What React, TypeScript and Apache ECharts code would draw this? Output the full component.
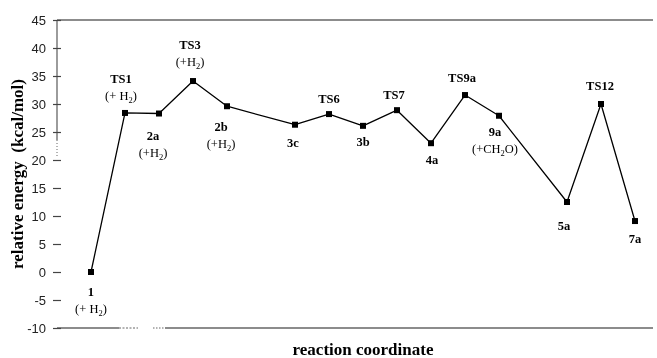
import React, { useEffect, useRef } from "react";
import * as echarts from "echarts";

// ---- data ----
const species = ["1", "TS1", "2a", "TS3", "2b", "3c", "TS6", "3b", "TS7", "4a", "TS9a", "9a", "5a", "TS12", "7a"];
const notes = ["(+ H₂)", "(+ H₂)", "(+H₂)", "(+H₂)", "(+H₂)", "", "", "", "", "", "", "(+CH₂O)", "", "", ""];
const positions = [1, 2, 3, 4, 5, 7, 8, 9, 10, 11, 12, 13, 15, 16, 17];
const energies = [0, 28.4, 28.3, 34.1, 29.6, 26.3, 28.2, 26.1, 28.9, 23.0, 31.6, 27.9, 12.5, 30.0, 9.1];
const yMin = -10;
const yMax = 45;
const yStep = 5;

// ---- label placement (styling) ----
const labelOffsets: [number, number][] = [
  [0, 28], [-4, -25], [-6, 31], [-3, -28], [-6, 29], [-2, 18], [0, -15], [0, 16],
  [-3, -15], [1, 17], [-3, -17], [-4, 25], [-3, 24], [-1, -18], [0, 18],
];

const SERIF = "'Liberation Serif', 'Times New Roman', serif";
const SANS = "'Liberation Sans', Arial, sans-serif";

function richNote(note: string): string {
  if (!note) return "";
  const parts = note.split("₂");
  return parts.map((p) => (p ? `{n|${p}}` : "")).join("{sub|2}");
}

export default function App() {
  const ref = useRef<HTMLDivElement>(null);
  useEffect(() => {
    if (!ref.current) return;
    const chart = echarts.init(ref.current, null, { renderer: "svg" });
    const L = 57, R = 653, T = 20, B = 328;
    const frame = "#666";
    const data = positions.map((x, i) => ({
      value: [x, energies[i]],
      label: {
        offset: labelOffsets[i],
        formatter: () => {
          const n = richNote(notes[i]);
          return n ? `{b|${species[i]}}\n${n}` : `{b|${species[i]}}`;
        },
      },
    }));
    chart.setOption({
      animation: false,
      grid: {
        left: L,
        right: 657 - R,
        top: T,
        bottom: 358 - B,
        containLabel: false,
        outerBoundsMode: "none",
      },
      xAxis: {
        type: "value",
        min: 0,
        max: 17.53,
        axisLine: { show: false },
        axisTick: { show: false },
        axisLabel: { show: false },
        splitLine: { show: false },
        name: "reaction coordinate",
        nameLocation: "middle",
        nameGap: 21,
        nameMoveOverlap: false,
        nameTextStyle: {
          fontFamily: SERIF,
          fontWeight: "bold",
          fontSize: 17,
          lineHeight: 17,
          color: "#000",
          verticalAlign: "middle",
          padding: [0, 0, 0, 16],
        },
      },
      yAxis: [
        {
          type: "value",
          min: yMin,
          max: yMax,
          interval: yStep,
          axisLine: { show: false },
          axisTick: { show: true, length: 4, lineStyle: { color: "#444", width: 1.2 } },
          axisLabel: { margin: 11, fontFamily: SANS, fontSize: 13, color: "#222" },
          splitLine: { show: false },
          name: "relative energy  (kcal/mol)",
          nameLocation: "middle",
          nameGap: 31,
          nameMoveOverlap: false,
          nameTextStyle: { fontFamily: SERIF, fontWeight: "bold", fontSize: 17, color: "#000" },
        },
        {
          type: "value",
          min: yMin,
          max: yMax,
          interval: yStep,
          position: "left",
          axisLine: { show: false },
          axisTick: { show: true, inside: true, length: 4, lineStyle: { color: "#444", width: 1.2 } },
          axisLabel: { show: false },
          splitLine: { show: false },
        },
      ],
      graphic: [
        { type: "line", shape: { x1: L, y1: T, x2: R, y2: T }, style: { stroke: frame, lineWidth: 1.3 } },
        { type: "line", shape: { x1: L, y1: T, x2: L, y2: 140 }, style: { stroke: frame, lineWidth: 1.3 } },
        { type: "line", shape: { x1: L, y1: 140, x2: L, y2: 157 }, style: { stroke: frame, lineWidth: 1, lineDash: [1, 2] } },
        { type: "line", shape: { x1: L, y1: B, x2: 119, y2: B }, style: { stroke: frame, lineWidth: 1.3 } },
        { type: "line", shape: { x1: 119, y1: B, x2: 138, y2: B }, style: { stroke: frame, lineWidth: 1, lineDash: [2, 1.5] } },
        { type: "line", shape: { x1: 153, y1: B, x2: 165, y2: B }, style: { stroke: frame, lineWidth: 1, lineDash: [1.5, 1.5] } },
        { type: "line", shape: { x1: 165, y1: B, x2: R, y2: B }, style: { stroke: frame, lineWidth: 1.3 } },
      ],
      series: [
        {
          type: "line",
          data,
          symbol: "rect",
          symbolSize: 6,
          itemStyle: { color: "#000" },
          lineStyle: { color: "#000", width: 1.3 },
          label: {
            show: true,
            position: "inside",
            align: "center",
            verticalAlign: "middle",
            rich: {
              b: { fontFamily: SERIF, fontWeight: "bold", fontSize: 12.5, color: "#000", lineHeight: 17 },
              n: { fontFamily: SERIF, fontSize: 12.5, color: "#000", lineHeight: 17 },
              sub: { fontFamily: SERIF, fontSize: 8.5, color: "#000", lineHeight: 12, verticalAlign: "bottom" },
            },
          },
        },
      ],
    });
    return () => chart.dispose();
  }, []);
  return <div ref={ref} style={{ position: "fixed", left: 0, top: 0, width: 657, height: 358 }} />;
}
